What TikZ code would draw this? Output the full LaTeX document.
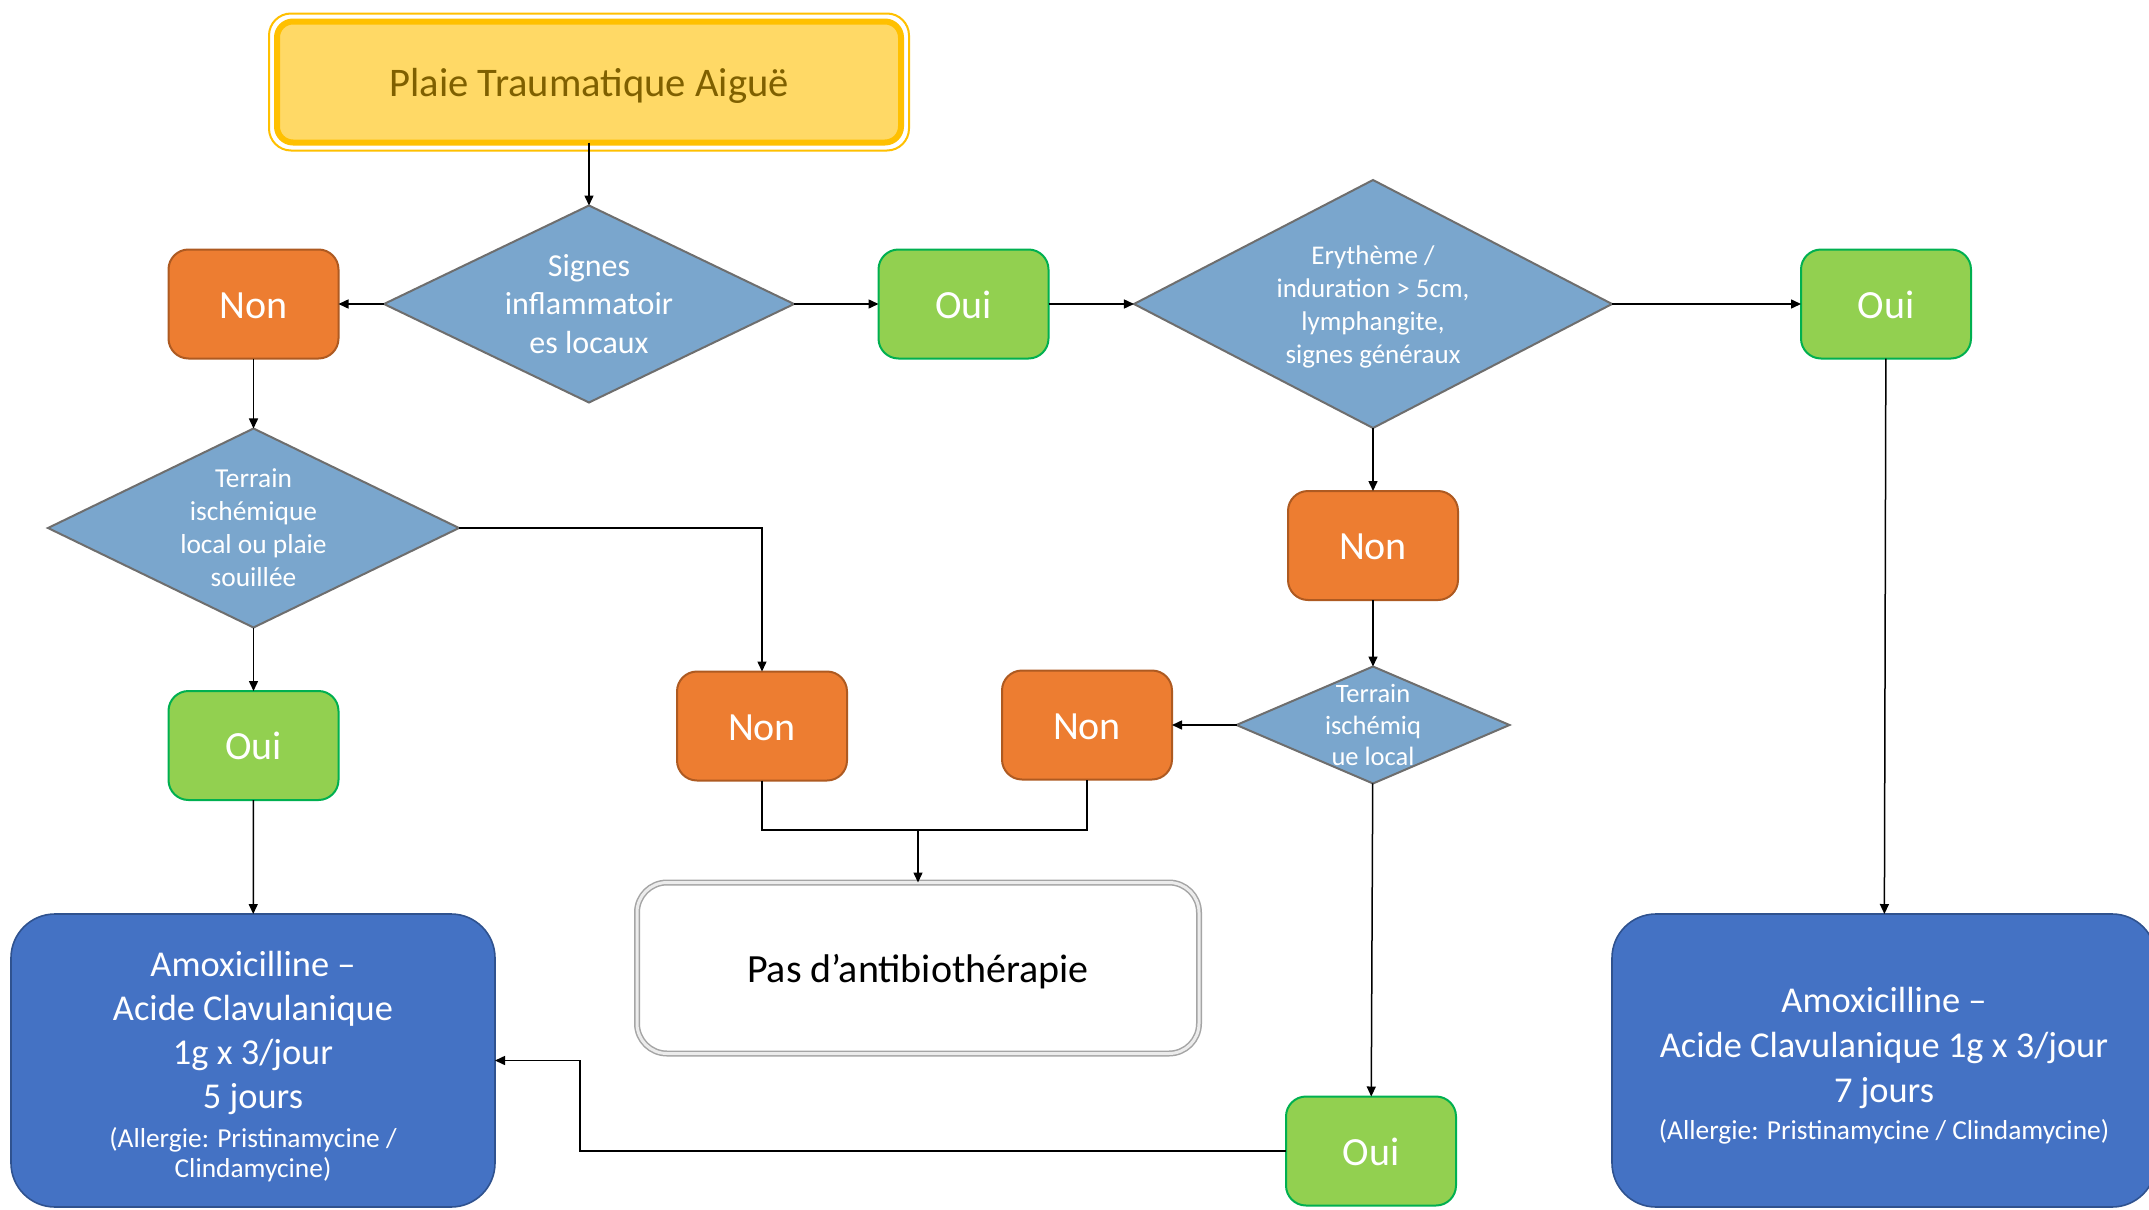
\documentclass[tikz,border=0pt]{standalone}
\usepackage{fontspec}
\setmainfont{Carlito}
\usetikzlibrary{shapes.geometric, positioning, arrows.meta}
\definecolor{topgold}{RGB}{255,192,0}
\definecolor{topfill}{RGB}{255,217,102}
\definecolor{topink}{RGB}{127,96,0}
\definecolor{nonorange}{RGB}{237,125,49}
\definecolor{nonedge}{RGB}{174,90,33}
\definecolor{ouigreen}{RGB}{146,208,80}
\definecolor{ouiedge}{RGB}{0,176,80}
\definecolor{askblue}{RGB}{122,166,205}
\definecolor{askedge}{RGB}{110,110,110}
\definecolor{drugblue}{RGB}{68,114,196}
\definecolor{drugedge}{RGB}{47,82,143}
\definecolor{pasedge}{RGB}{165,165,165}
\newcommand{\allergy}[1]{{\fontsize{13.7}{15.75}\selectfont #1}}
\tikzset{
>={Triangle[length=5pt,width=4.5pt]}, % filled arrow heads
every node/.style={outer sep=0pt, align=center}, % anchors sit on the border
answer/.style={rounded corners=10pt, line width=1pt, minimum width=85pt, minimum height=54.5pt, text=white, text height=14pt, text depth=0pt, font=\fontsize{20}{24}\selectfont}, % Oui / Non boxes
non/.style={answer, fill=nonorange, draw=nonedge},
oui/.style={answer, fill=ouigreen, draw=ouiedge},
question/.style={diamond, fill=askblue, draw=askedge, line width=1pt, text=white, inner xsep=0pt, inner ysep=-10pt}, % size comes from minimum width/height
drug/.style={rounded corners=22pt, fill=drugblue, draw=drugedge, line width=0.8pt, minimum height=146.5pt, text=white},
link/.style={->, line width=0.75pt},
}

\begin{document}
\begin{tikzpicture}[x=0.5pt, y=-0.5pt]
      \path[use as bounding box, fill=white] (0,0) rectangle (2149,1210);

      \node[fill=topfill, draw=topgold, line width=3pt, rounded corners=8pt, minimum width=312pt, minimum height=60.5pt, text=topink, text depth=0pt, font=\fontsize{20.3}{24}\selectfont] (top) at (589,82) {Plaie Traumatique Aiguë};
      \draw[topgold, line width=1pt, rounded corners=11pt] ([shift={(-4pt,4pt)}]top.north west) rectangle ([shift={(4pt,-4pt)}]top.south east);

      \node[question, shape aspect=2.08, minimum width=205pt, minimum height=98.5pt, font=\fontsize{16}{19.2}\selectfont] (signes) at (589,304) {Signes\\inflammatoir\\es locaux};
      \node[non, left=22.75pt of signes] (non1) {Non};
      \node[oui, right=42.25pt of signes] (oui1) {Oui};
      \node[question, shape aspect=1.93, minimum width=239pt, minimum height=124pt, font=\fontsize{13.5}{16.5}\selectfont, right=42.75pt of oui1] (erytheme) {\rule{0pt}{12.5pt}Erythème /\\induration > 5cm,\\lymphangite,\\signes généraux};
      \node[oui, right=94.5pt of erytheme] (oui2) {Oui};
      \node[question, shape aspect=2.07, minimum width=205.5pt, minimum height=99.5pt, font=\fontsize{13.7}{16.5}\selectfont, below=35pt of non1] (terrain) {Terrain\\ischémique\\local ou plaie\\souillée};
      \node[oui, below=31.75pt of terrain] (oui3) {Oui};
      \node[non, below=31.5pt of erytheme] (non2) {Non};
      \node[question, shape aspect=2.34, minimum width=136.5pt, minimum height=58.5pt, font=\fontsize{13.25}{15.75}\selectfont, below=33.25pt of non2] (ischemie) {Terrain\\ischémiq\\ue local};
      \node[non, left=32.25pt of ischemie] (non4) {Non};
      \node[non] (non3) at (762,726) {Non};
      \node[oui] (oui4) at (1371,1151) {Oui};
      \node[draw=pasedge, double=white!85!gray, line width=0.75pt, double distance=1.5pt, rounded corners=15pt, minimum width=281pt, minimum height=85.5pt, text depth=0pt, font=\fontsize{20}{24}\selectfont] (pas) at (918,968) {Pas d’antibiothérapie};
      \node[drug, minimum width=242pt, font=\fontsize{18.2}{22}\selectfont] (amox1) at (253,1060.5) {\rule{0pt}{18.4pt}Amoxicilline –\\Acide Clavulanique\\1g x 3/jour\\5 jours\\[-2.5pt]\allergy{(Allergie: Pristinamycine /}\\[-7pt]\allergy{Clindamycine)}};
      \node[drug, minimum width=272pt, font=\fontsize{18.2}{22.6}\selectfont] (amox2) at (1884,1060.5) {\rule{0pt}{17.7pt}Amoxicilline –\\Acide Clavulanique 1g x 3/jour\\7 jours\\[-4pt]\allergy{(Allergie: Pristinamycine / Clindamycine)}};
      \coordinate (merge) at (918,830);

      \draw[link] (top) -- (signes);
      \draw[link] (signes) -- (non1);
      \draw[link] (signes) -- (oui1);
      \draw[link] (oui1) -- (erytheme);
      \draw[link] (erytheme) -- (oui2);
      \draw[link] (oui2) -- (amox2);
      \draw[link] (non1) -- (terrain);
      \draw[link] (terrain) -- (oui3);
      \draw[link] (oui3) -- (amox1);
      \draw[link] (terrain.east) -| (non3.north);
      \draw[link] (erytheme) -- (non2);
      \draw[link] (non2) -- (ischemie);
      \draw[link] (ischemie) -- (non4);
      \draw[link] (ischemie) -- (oui4);
      \draw[line width=0.75pt] (non3.south) |- (merge) -| (non4.south);
      \draw[link] (merge) -- (pas);
      \draw[link] (oui4.west) -| ([xshift=42.5pt]amox1.east) -- (amox1.east);
\end{tikzpicture}
\end{document}
